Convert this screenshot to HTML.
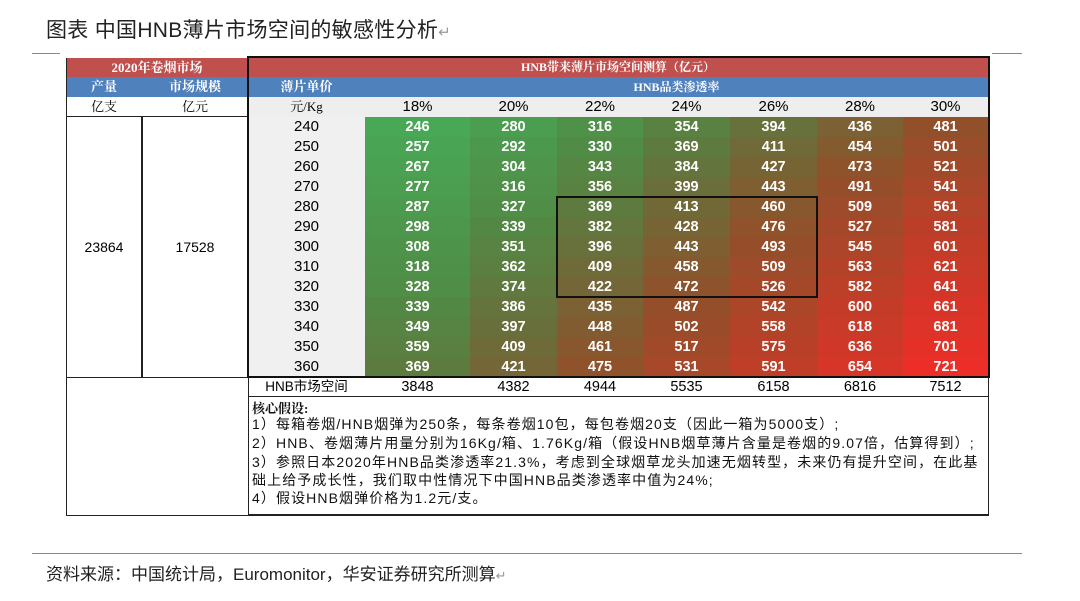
<!DOCTYPE html>
<html><head><meta charset="utf-8"><style>
body{margin:0;width:1080px;height:601px;background:#fff;position:relative;overflow:hidden;font-family:"Liberation Sans","Noto Sans CJK SC",sans-serif}
.a{position:absolute;box-sizing:border-box}
.c{position:absolute;box-sizing:border-box;text-align:center;font-size:14px;line-height:20px}
.s{font-family:"Liberation Serif","Noto Serif CJK SC",serif;font-weight:bold;color:#fff;font-size:13px}
.n{color:#fff;font-weight:bold;font-size:14.5px}
.t{position:absolute;left:252px;font-size:14px;letter-spacing:1.1px;font-family:"Liberation Sans","Noto Sans CJK SC",sans-serif;white-space:nowrap;color:#111}
</style></head><body>
<div class="a" style="left:46px;top:14px;font-size:21px;color:#222;letter-spacing:0.3px">图表 中国HNB薄片市场空间的敏感性分析<span style="color:#999;font-size:15px">↵</span></div>
<div class="a" style="left:32px;top:53px;width:28px;height:1px;background:#888"></div>
<div class="a" style="left:992px;top:53px;width:30px;height:1px;background:#888"></div>

<div class="a" style="left:66px;top:58px;width:922px;height:19px;background:#c0504d"></div>
<div class="a" style="left:66px;top:77px;width:922px;height:20px;background:#4f81bd"></div>
<div class="a" style="left:248px;top:97px;width:740px;height:20px;background:#eeeeee"></div>
<div class="a" style="left:248px;top:117px;width:117px;height:260px;background:#f0f0f0"></div>
<div class="c s" style="left:66px;top:58px;width:182px;line-height:19px">2020年卷烟市场</div>
<div class="c s" style="left:248px;top:58px;width:740px;line-height:19px;font-size:12px">HNB带来薄片市场空间测算（亿元）</div>
<div class="c s" style="left:66px;top:77px;width:76px">产量</div>
<div class="c s" style="left:142px;top:77px;width:106px">市场规模</div>
<div class="c s" style="left:248px;top:77px;width:117px">薄片单价</div>
<div class="c s" style="left:365px;top:77px;width:623px;font-size:12px">HNB品类渗透率</div>
<div class="c" style="left:66px;top:97px;width:76px;font-family:'Liberation Serif','Noto Serif CJK SC',serif;font-size:13px">亿支</div>
<div class="c" style="left:142px;top:97px;width:106px;font-family:'Liberation Serif','Noto Serif CJK SC',serif;font-size:13px">亿元</div>
<div class="c" style="left:248px;top:97px;width:117px;font-family:'Liberation Serif','Noto Serif CJK SC',serif;font-size:13px">元/Kg</div>
<div id="g"></div>

<div class="a" style="left:66px;top:58px;width:183px;height:458px;border:1px solid #222;border-top:none"></div>
<div class="a" style="left:66px;top:116px;width:182px;height:262px;border:1px solid #222"></div>
<div class="a" style="left:141px;top:116px;width:2px;height:262px;background:#222"></div>
<div class="a" style="left:66px;top:116px;width:182px;height:1px;background:#222"></div>
<div class="c" style="left:66px;top:237px;width:76px">23864</div>
<div class="c" style="left:142px;top:237px;width:106px">17528</div>

<div class="a" style="left:247px;top:56px;width:743px;height:322px;border:2px solid #111"></div>
<div class="a" style="left:248px;top:377px;width:741px;height:139px;border:1px solid #222;border-top:none;border-bottom:2px solid #222"></div>
<div class="a" style="left:248px;top:396px;width:741px;height:1px;background:#222"></div>
<div class="a" style="left:556px;top:196px;width:262px;height:102px;border:2px solid #111"></div>

<div class="c" style="left:248px;top:377px;width:117px;font-size:13.5px">HNB市场空间</div>
<div class="t" style="top:398px;font-weight:bold;letter-spacing:0;font-size:13px;font-family:'Liberation Serif','Noto Serif CJK SC',serif">核心假设:</div>
<div class="t" style="top:414px">1）每箱卷烟/HNB烟弹为250条，每条卷烟10包，每包卷烟20支（因此一箱为5000支）;</div>
<div class="t" style="top:433px">2）HNB、卷烟薄片用量分别为16Kg/箱、1.76Kg/箱（假设HNB烟草薄片含量是卷烟的9.07倍，估算得到）;</div>
<div class="t" style="top:452px">3）参照日本2020年HNB品类渗透率21.3%，考虑到全球烟草龙头加速无烟转型，未来仍有提升空间，在此基</div>
<div class="t" style="top:470px">础上给予成长性，我们取中性情况下中国HNB品类渗透率中值为24%;</div>
<div class="t" style="top:488px">4）假设HNB烟弹价格为1.2元/支。</div>

<div class="a" style="left:32px;top:553px;width:990px;height:1px;background:#888"></div>
<div class="a" style="left:46px;top:560px;font-size:17px;color:#222">资料来源：中国统计局，Euromonitor，华安证券研究所测算<span style="color:#999;font-size:13px">↵</span></div>

<script>
var cols=[365,470,557,643,730,817,903,988];
var pcts=["18%","20%","22%","24%","26%","28%","30%"];
var prices=[240,250,260,270,280,290,300,310,320,330,340,350,360];
var d=[[246,280,316,354,394,436,481],[257,292,330,369,411,454,501],[267,304,343,384,427,473,521],[277,316,356,399,443,491,541],[287,327,369,413,460,509,561],[298,339,382,428,476,527,581],[308,351,396,443,493,545,601],[318,362,409,458,509,563,621],[328,374,422,472,526,582,641],[339,386,435,487,542,600,661],[349,397,448,502,558,618,681],[359,409,461,517,575,636,701],[369,421,475,531,591,654,721]];
var tot=[3848,4382,4944,5535,6158,6816,7512];
var st=[[246,[72,168,86]],[330,[80,140,70]],[400,[105,110,58]],[480,[145,80,42]],[600,[195,60,40]],[721,[236,46,40]]];
function col(v){for(var i=0;i<st.length-1;i++){var a=st[i],b=st[i+1];if(v<=b[0]){var t=(v-a[0])/(b[0]-a[0]);return 'rgb('+a[1].map(function(x,k){return Math.round(x+(b[1][k]-x)*t)}).join(',')+')';}}return 'rgb(236,46,40)';}
var h='';
for(var j=0;j<7;j++){var x=cols[j],w=cols[j+1]-x;
h+='<div class="c" style="left:'+x+'px;top:97px;width:'+w+'px;font-size:15px">'+pcts[j]+'</div>';
h+='<div class="c" style="left:'+x+'px;top:377px;width:'+w+'px;font-size:14.5px">'+tot[j]+'</div>';}
for(var i=0;i<13;i++){var y=117+i*20;
h+='<div class="c" style="left:248px;top:'+y+'px;width:117px;font-size:15px">'+prices[i]+'</div>';
for(var j=0;j<7;j++){var x=cols[j],w=cols[j+1]-x;
h+='<div class="c n" style="left:'+x+'px;top:'+y+'px;width:'+w+'px;height:20px;background:'+col(d[i][j])+'">'+d[i][j]+'</div>';}}
document.getElementById('g').innerHTML=h;
</script>
</body></html>
